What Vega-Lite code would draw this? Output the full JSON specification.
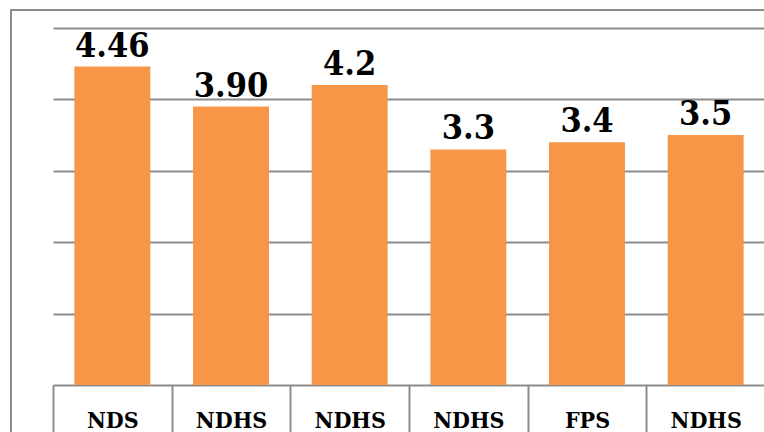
{
  "$schema": "https://vega.github.io/schema/vega-lite/v6.json",
  "width": 753,
  "height": 422,
  "autosize": {"type": "none"},
  "padding": {"left": 11, "top": 10, "right": 0, "bottom": 0},
  "background": "white",
  "config": {"view": {"stroke": "#8c8c8c", "strokeWidth": 2, "strokeDash": [753, 1175, 422, 10]}},
  "data": {"values": [
    {"key": "NDS|1", "value": 4.46, "label": "4.46"},
    {"key": "NDHS|2", "value": 3.90, "label": "3.90"},
    {"key": "NDHS|3", "value": 4.2, "label": "4.2"},
    {"key": "NDHS|4", "value": 3.3, "label": "3.3"},
    {"key": "FPS|5", "value": 3.4, "label": "3.4"},
    {"key": "NDHS|6", "value": 3.5, "label": "3.5"}
  ]},
  "encoding": {
    "x": {"field": "key", "type": "nominal", "sort": null,
      "scale": {"range": [42, 754], "paddingInner": 0.36, "paddingOuter": 0.18},
      "axis": {"title": null, "orient": "bottom", "offset": -47, "domainColor": "#8c8c8c", "domainWidth": 2,
        "tickColor": "#8c8c8c", "tickWidth": 2, "tickSize": 50, "tickOffset": -59.33, "labelOffset": 59.33, "labelAngle": 0,
        "labelExpr": "datum.value ? split(datum.value, '|')[0] : ''", "labelFont": "DejaVu Serif Condensed", "labelFontWeight": "bold",
        "labelFontSize": 23, "labelColor": "black", "labelBaseline": "alphabetic", "labelPadding": -8, "grid": false}},
    "y": {"field": "value", "type": "quantitative",
      "scale": {"domain": [0, 5], "range": [375, 18], "nice": false},
      "axis": {"title": null, "values": [1, 2, 3, 4, 5], "labels": false, "ticks": false, "domain": false,
        "grid": true, "gridColor": "#8c8c8c", "gridWidth": 2}}
  },
  "layer": [
    {"mark": {"type": "bar", "color": "#F79646"}},
    {"mark": {"type": "text", "baseline": "alphabetic", "dy": -10, "font": "DejaVu Serif Condensed", "fontWeight": "bold", "fontSize": 34, "color": "black"},
      "encoding": {"text": {"field": "label"}}}
  ]
}
